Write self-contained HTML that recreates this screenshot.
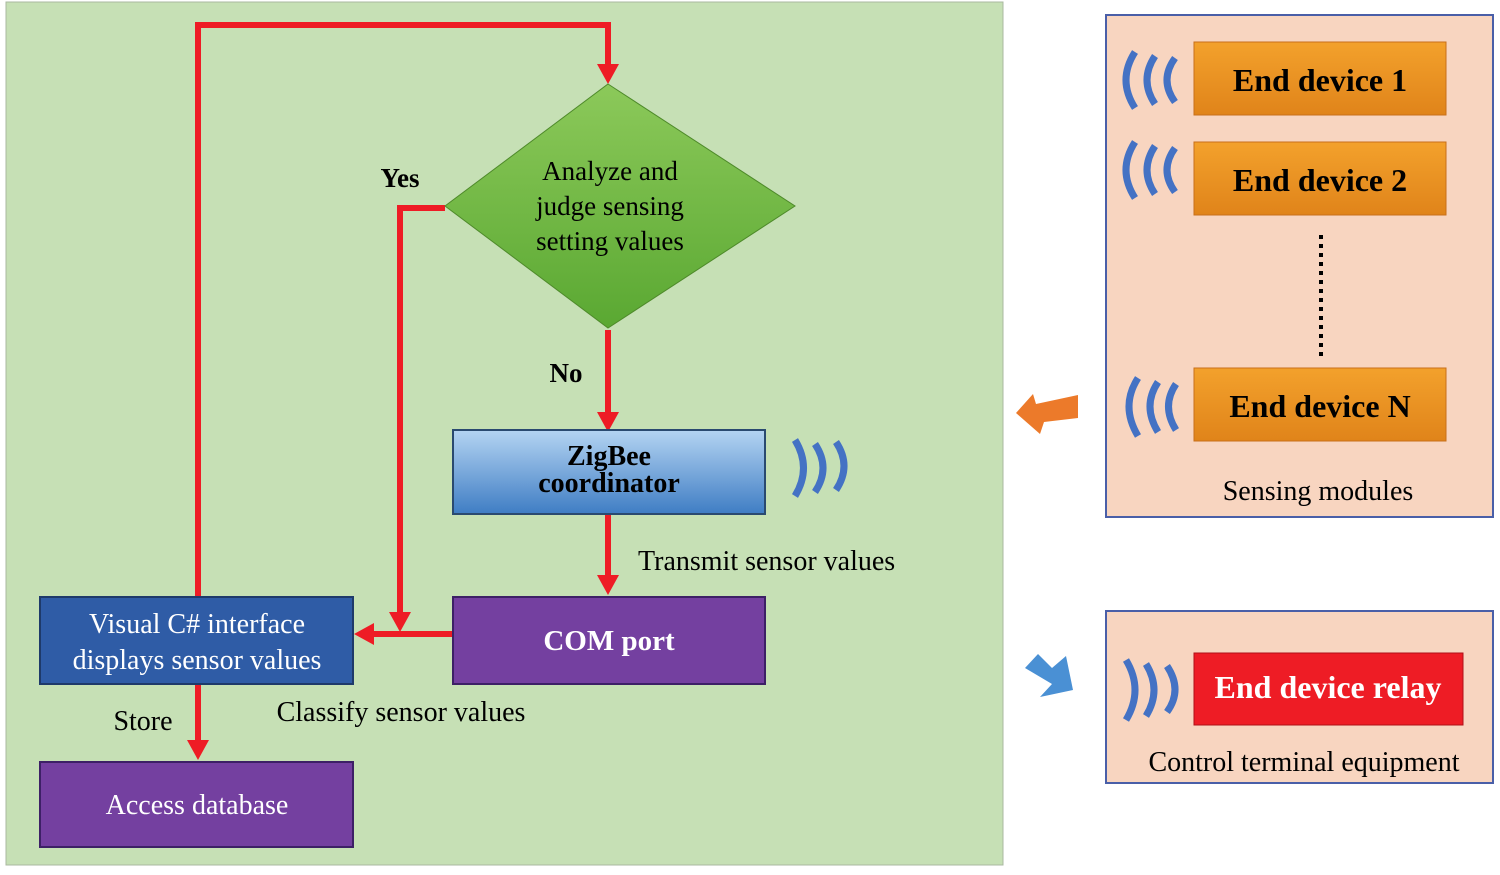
<!DOCTYPE html>
<html><head><meta charset="utf-8"><style>
html,body{margin:0;padding:0;background:#fff;width:1500px;height:875px;overflow:hidden}
svg, svg text{font-family:"Liberation Serif","Times New Roman",Times,serif !important}
</style></head><body>
<svg width="1500" height="875" viewBox="0 0 1500 875" xmlns="http://www.w3.org/2000/svg" font-family="Liberation Serif, Times New Roman, serif">
<defs>
<linearGradient id="gz" x1="0" y1="0" x2="0" y2="1"><stop offset="0" stop-color="#b4d4f2"/><stop offset="1" stop-color="#3f7dc4"/></linearGradient>
<linearGradient id="gd" x1="0" y1="0" x2="0" y2="1"><stop offset="0" stop-color="#8cc95a"/><stop offset="1" stop-color="#5aa832"/></linearGradient>
<linearGradient id="go" x1="0" y1="0" x2="0" y2="1"><stop offset="0" stop-color="#f3a12c"/><stop offset="1" stop-color="#e0841a"/></linearGradient>
</defs>
<rect x="6" y="2" width="997" height="863" fill="#c6e0b5" stroke="#aab8a0" stroke-width="1"/>
<g stroke="#ee1c25" stroke-width="6" fill="none">
<polyline points="198,597 198,25 608,25 608,66"/>
<polyline points="445,208 400,208 400,614"/>
<line x1="453" y1="634" x2="372" y2="634"/>
<line x1="608" y1="330" x2="608" y2="414"/>
<line x1="608" y1="514" x2="608" y2="577"/>
<line x1="198" y1="684" x2="198" y2="742"/>
</g>
<g fill="#ee1c25">
<polygon points="597,64 619,64 608,84"/>
<polygon points="389,612 411,612 400,632"/>
<polygon points="374,623 374,645 354,634"/>
<polygon points="597,412 619,412 608,432"/>
<polygon points="597,575 619,575 608,595"/>
<polygon points="187,740 209,740 198,760"/>
</g>
<polygon points="608,84 795,206 608,328 445,206" fill="url(#gd)" stroke="#4e8a2a" stroke-width="1"/>
<text x="610" y="180" font-size="27" text-anchor="middle">Analyze and</text>
<text x="610" y="215" font-size="27" text-anchor="middle">judge sensing</text>
<text x="610" y="250" font-size="27" text-anchor="middle">setting values</text>
<text x="400" y="187" font-size="27" font-weight="bold" text-anchor="middle">Yes</text>
<text x="566" y="382" font-size="27" font-weight="bold" text-anchor="middle">No</text>
<rect x="453" y="430" width="312" height="84" fill="url(#gz)" stroke="#2a4a70" stroke-width="2"/>
<text x="609" y="465" font-size="28" font-weight="bold" text-anchor="middle">ZigBee</text>
<text x="609" y="492" font-size="28" font-weight="bold" text-anchor="middle">coordinator</text>
<text x="638" y="570" font-size="28">Transmit sensor values</text>
<rect x="453" y="597" width="312" height="87" fill="#7440a0" stroke="#3d2066" stroke-width="2"/>
<text x="609" y="650" font-size="29" font-weight="bold" fill="#fff" text-anchor="middle">COM port</text>
<rect x="40" y="597" width="313" height="87" fill="#2f5ca6" stroke="#1e3a6a" stroke-width="2"/>
<text x="197" y="633" font-size="28" fill="#fff" text-anchor="middle">Visual C# interface</text>
<text x="197" y="669" font-size="28" fill="#fff" text-anchor="middle">displays sensor values</text>
<text x="143" y="730" font-size="28" text-anchor="middle">Store</text>
<text x="401" y="721" font-size="28" text-anchor="middle">Classify sensor values</text>
<rect x="40" y="762" width="313" height="85" fill="#7440a0" stroke="#3d2066" stroke-width="2"/>
<text x="197" y="814" font-size="28" fill="#fff" text-anchor="middle">Access database</text>
<rect x="1106" y="15" width="387" height="502" fill="#f8d5c0" stroke="#4a5fa8" stroke-width="2"/>
<rect x="1194" y="42" width="252" height="73" fill="url(#go)" stroke="#c8701a"/>
<text x="1320" y="91" font-size="32" font-weight="bold" text-anchor="middle">End device 1</text>
<rect x="1194" y="142" width="252" height="73" fill="url(#go)" stroke="#c8701a"/>
<text x="1320" y="191" font-size="32" font-weight="bold" text-anchor="middle">End device 2</text>
<rect x="1194" y="368" width="252" height="73" fill="url(#go)" stroke="#c8701a"/>
<text x="1320" y="417" font-size="32" font-weight="bold" text-anchor="middle">End device N</text>
<line x1="1321" y1="235" x2="1321" y2="356" stroke="#000" stroke-width="4" stroke-dasharray="4,5"/>
<text x="1318" y="500" font-size="28" text-anchor="middle">Sensing modules</text>
<polygon points="1078,395 1078,418 1044,422 1040,434 1016,413 1033,394 1036,404" fill="#ec7a2a"/>
<polygon points="1025,668 1038,654 1052,668 1066,656 1073,690 1040,697 1052,684" fill="#4a90d4"/>
<rect x="1106" y="611" width="387" height="172" fill="#f8d5c0" stroke="#4a5fa8" stroke-width="2"/>
<rect x="1194" y="653" width="269" height="72" fill="#ee1c25" stroke="#b01018"/>
<text x="1328" y="698" font-size="32" font-weight="bold" fill="#fff" text-anchor="middle">End device relay</text>
<text x="1304" y="771" font-size="28" text-anchor="middle">Control terminal equipment</text>
<g stroke="#4472c4" stroke-width="7" fill="none">
<path d="M795,440 Q812,468 795,496"/><path d="M815,444 Q831,468 815,492"/><path d="M836,442 Q852,466 836,490"/>
<path d="M1135,52 Q1117,80 1135,108"/><path d="M1155,56 Q1139,80 1155,104"/><path d="M1175,58 Q1159,80 1175,102"/>
<path d="M1135,142 Q1117,170 1135,198"/><path d="M1155,146 Q1139,170 1155,194"/><path d="M1175,148 Q1159,170 1175,192"/>
<path d="M1138,378 Q1120,406 1138,436"/><path d="M1158,382 Q1142,406 1158,432"/><path d="M1176,384 Q1161,406 1176,430"/>
<path d="M1126,660 Q1144,690 1126,720"/><path d="M1146,664 Q1162,690 1146,716"/><path d="M1167,666 Q1183,690 1167,712"/>
</g>
</svg>
</body></html>
